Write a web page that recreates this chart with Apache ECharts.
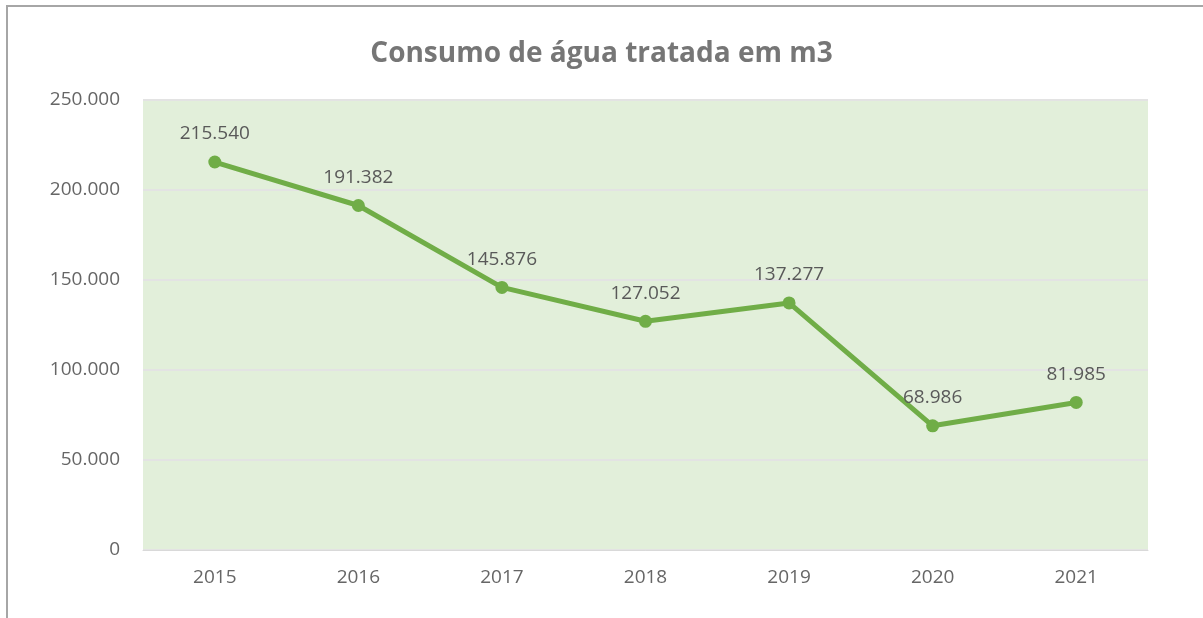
<!DOCTYPE html>
<html>
<head>
<meta charset="utf-8">
<script src="https://cdn.jsdelivr.net/npm/echarts@6/dist/echarts.min.js"></script>
<style>
  html, body { margin: 0; padding: 0; background: #fff; }
  #main { width: 1203px; height: 618px; }
  #frame {
    position: absolute; left: 6px; top: 5px; width: 1300px; height: 700px;
    border-left: 2px solid #a6a6a6; border-top: 2px solid #a6a6a6;
    pointer-events: none;
  }
</style>
</head>
<body>
<div id="main"></div>
<div id="frame"></div>
<script>
// dados
var anos = ["2015", "2016", "2017", "2018", "2019", "2020", "2021"];
var consumo = [215540, 191382, 145876, 127052, 137277, 68986, 81985];

function fmt(v) {
  return String(v).replace(/\B(?=(\d{3})+(?!\d))/g, ".");
}

var chart = echarts.init(document.getElementById("main"));
var fonte = "'Open Sans', 'Liberation Sans', sans-serif";

var option = {
  animation: false,
  title: {
    text: "Consumo de água tratada em m3",
    left: "center",
    top: 35,
    textStyle: { color: "#767676", fontSize: 28, fontWeight: "bold", fontFamily: fonte }
  },
  grid: {
    left: 143, right: 55, top: 100, bottom: 68,
    show: true, backgroundColor: "#e2efda", borderWidth: 0
  },
  xAxis: {
    type: "category",
    data: anos,
    boundaryGap: true,
    axisLine: { lineStyle: { color: "#d9d9d9", width: 1 } },
    axisTick: { show: false },
    axisLabel: { color: "#666666", fontSize: 19, margin: 18, fontFamily: fonte }
  },
  yAxis: {
    type: "value",
    min: 0, max: 250000, interval: 50000,
    axisLine: { show: false },
    axisTick: { show: false },
    splitLine: { lineStyle: { color: "#e3e3e3", width: 2 } },
    axisLabel: {
      color: "#666666", fontSize: 19, margin: 23, fontFamily: fonte,
      formatter: function (v) { return fmt(v); }
    }
  },
  series: [
    {
      type: "line",
      data: consumo,
      symbol: "circle",
      symbolSize: 13,
      lineStyle: { color: "#70ad47", width: 5 },
      itemStyle: { color: "#70ad47" },
      label: {
        show: true, position: "top", distance: 12,
        color: "#595959", fontSize: 19, fontFamily: fonte,
        formatter: function (p) { return fmt(p.value); }
      }
    }
  ]
};
chart.setOption(option);
</script>
</body>
</html>
